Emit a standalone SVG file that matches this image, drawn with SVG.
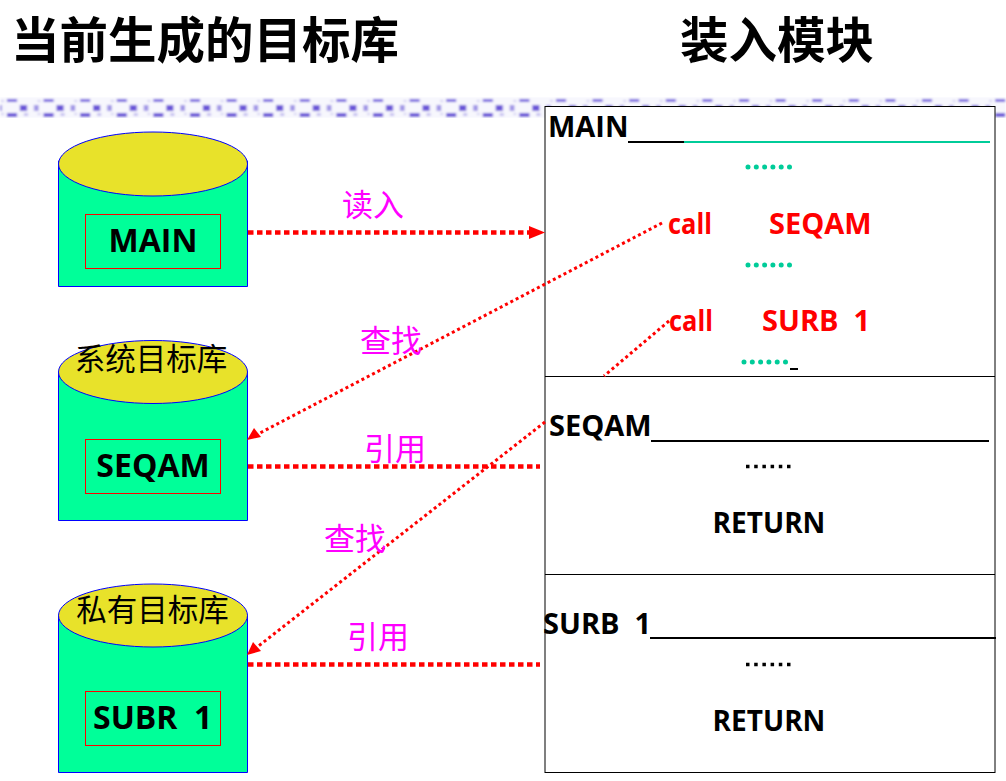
<svg xmlns="http://www.w3.org/2000/svg" width="1006" height="781" viewBox="0 0 1006 781">
<style>
text{font-family:"Open Sans","Noto Sans","Noto Sans CJK SC",sans-serif}
.cjk{font-family:"Noto Sans CJK SC",sans-serif}
.title{font-size:48.500px;font-weight:700;fill:#000}
.b{font-size:29px;font-weight:700;fill:#000}
.ret{font-size:28px;font-weight:700;fill:#000}
.big{font-size:32px;font-weight:700;fill:#000}
.r{font-size:29px;font-weight:700;fill:#f00}
.m{font-size:31px;fill:#f0f}
.lib{font-size:30.500px;fill:#000}
.body{fill:#00ff99;stroke:#00f;stroke-width:1}
.top{fill:#e8e22a;stroke:#00f;stroke-width:1}
.in{fill:none;stroke:#f00;stroke-width:1}
.thick{stroke:#f00;stroke-width:4.500;stroke-dasharray:5.500 3.500;fill:none}
.thin{stroke:#f00;stroke-width:3;stroke-dasharray:3 3;fill:none}
.ln{stroke:#000;stroke-width:2;fill:none}
.gr{stroke:#00cc99;stroke-width:2;fill:none}
.dots{stroke:#00cc99;stroke-width:5;stroke-linecap:round;stroke-dasharray:0 8.300;fill:none}
.kd{stroke:#000;stroke-width:3.500;stroke-dasharray:3.500 4.700;fill:none}
</style>
<defs>
<filter id="soft" x="0" y="0" width="1" height="1"><feGaussianBlur stdDeviation="1"/></filter>
<pattern id="band" x="0" y="97" width="36.600" height="21" patternUnits="userSpaceOnUse">
<rect width="36.600" height="21" fill="#f7f7fd"/>
<rect x="7" y="2" width="10" height="3" fill="#7a66e0"/>
<rect x="1" y="3" width="3" height="2" fill="#d5d1f3"/>
<rect x="20" y="8" width="7" height="6" fill="#6a55d8"/>
<rect x="34" y="8" width="2.600" height="6" fill="#a095e6"/>
<rect x="0" y="8" width="2" height="6" fill="#a095e6"/>
<rect x="7" y="16" width="10" height="4" fill="#6a55d8"/>
<rect x="1" y="16" width="3" height="2" fill="#d5d1f3"/>
<rect x="24" y="16" width="4" height="3" fill="#c5bff0"/>
</pattern>
</defs>
<g id="titles">
<text class="title cjk" x="11" y="58">当前生成的目标库</text>
<text class="title cjk" x="680" y="58">装入模块</text>
</g>
<rect id="band-strip" x="0" y="97" width="1006" height="21" fill="url(#band)" filter="url(#soft)"/>
<g id="lib-main">
<path class="body" d="M58.500 161V286.500H247.500V161Z"/>
<ellipse class="top" cx="153" cy="164" rx="94.500" ry="32"/>
<rect class="in" x="85.500" y="214.500" width="135" height="54"/>
<text class="big" x="153" y="252" text-anchor="middle">MAIN</text>
</g>
<g id="lib-system">
<path class="body" d="M58.500 372V520.500H247.500V372Z"/>
<ellipse class="top" cx="153" cy="372" rx="94.500" ry="31.500"/>
<text class="lib cjk" x="151" y="370" text-anchor="middle">系统目标库</text>
<rect class="in" x="85.500" y="439.500" width="135" height="54"/>
<text class="big" x="153" y="477" text-anchor="middle">SEQAM</text>
</g>
<g id="lib-private">
<path class="body" d="M58.500 615V772.500H247.500V615Z"/>
<ellipse class="top" cx="153" cy="615.500" rx="94.500" ry="31.500"/>
<text class="lib cjk" x="152.500" y="621" text-anchor="middle">私有目标库</text>
<rect class="in" x="85.500" y="691.500" width="135" height="54"/>
<text class="big" x="93" y="729" xml:space="preserve">SUBR  1</text>
</g>
<g id="module">
<rect x="545" y="106.500" width="450" height="666" fill="#fff" stroke="#000" stroke-width="1"/>
<path d="M545 376.500H995M545 574.500H995" stroke="#000" stroke-width="1" fill="none"/>
<text class="b" x="548" y="137">MAIN</text>
<path class="ln" d="M628 142H684"/>
<path class="gr" d="M684 142H990"/>
<path class="dots" d="M748 167H792M748 265H792"/>
<text class="r" x="668" y="234" textLength="44" lengthAdjust="spacingAndGlyphs">call</text>
<text class="r" x="769" y="234">SEQAM</text>
<text class="r" x="669" y="331" textLength="44" lengthAdjust="spacingAndGlyphs">call</text>
<text class="r" x="762" y="331" xml:space="preserve">SURB  1</text>
<path class="dots" d="M744 362H788"/>
<path d="M790 369H798" stroke="#000" stroke-width="2"/>
<text class="b" x="549" y="436">SEQAM</text>
<path class="ln" d="M651 441H989"/>
<path class="kd" d="M746 466.500H795"/>
<text class="ret" x="769" y="533" text-anchor="middle">RETURN</text>
<text class="b" x="543" y="634" xml:space="preserve">SURB  1</text>
<path class="ln" d="M650 638H996"/>
<path class="kd" d="M746 664.500H795"/>
<text class="ret" x="769" y="731" text-anchor="middle">RETURN</text>
</g>
<g id="connectors">
<path class="thick" d="M248 232.500H534"/>
<path d="M529 226L545 232.500L529 239Z" fill="#f00"/>
<path class="thin" d="M662 223L258 434"/>
<path d="M247 440L254 428L261 437Z" fill="#f00"/>
<path class="thin" d="M669 321L604 376"/>
<path class="thick" d="M248 466.500H540"/>
<path class="thin" d="M545 422L256 648"/>
<path d="M247 655L253 642L261 651Z" fill="#f00"/>
<path class="thick" d="M248 664.500H540"/>
</g>
<g id="labels">
<text class="m cjk" x="342" y="216">读入</text>
<text class="m cjk" x="360" y="352">查找</text>
<text class="m cjk" x="364" y="460">引用</text>
<text class="m cjk" x="324" y="550">查找</text>
<text class="m cjk" x="347" y="648">引用</text>
</g>
</svg>
